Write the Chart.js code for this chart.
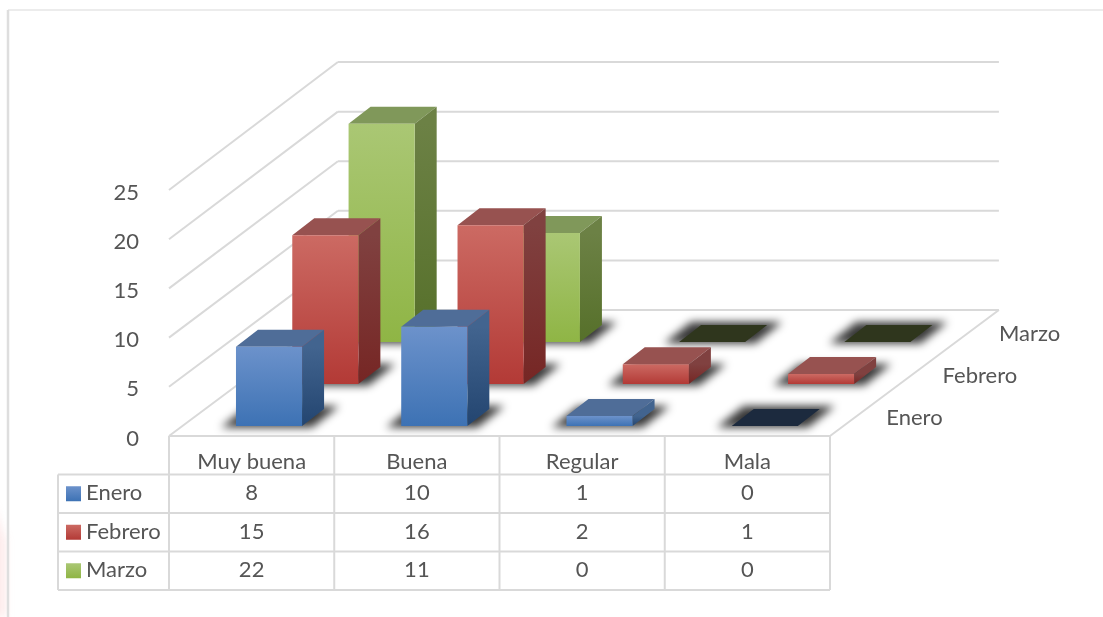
<!DOCTYPE html>
<html>
<head>
<meta charset="utf-8">
<style>
  html, body { margin: 0; padding: 0; background: #fff; }
  canvas { display: block; }
</style>
<script src="https://cdn.jsdelivr.net/npm/chart.js@4"></script>
</head>
<body>
<canvas id="chart" width="1103" height="617"></canvas>
<script>
const categories = ["Muy buena", "Buena", "Regular", "Mala"];
const seriesNames = ["Enero", "Febrero", "Marzo"];
const enero = [8, 10, 1, 0];
const febrero = [15, 16, 2, 1];
const marzo = [22, 11, 0, 0];
const yTicks = [0, 5, 10, 15, 20, 25];

// face colours per series
const frontTop = ["#6c92cb", "#cc6a63", "#aac774"];
const frontBottom = ["#3d72b4", "#b33a36", "#8fb545"];
const sideTop = ["#42648f", "#804140", "#6c8145"];
const sideBottom = ["#234570", "#762624", "#56702a"];
const topFace = ["#4f6d98", "#975250", "#80985a"];
const zeroFace = ["#1c2a3e", "#3e1c1b", "#2f361d"];

const lineColor = "#d9d9d9";
const textColor = "#555555";
const font = "22px Lato";

// depth of one series row, of a bar, and where a bar sits inside its row
const rowDx = 56.3, rowDy = -42;
const barDx = 22, barDy = -17;
const insetDx = 17.4, insetDy = -10;
// the back of the box is drawn a bit taller than the front axis
const perspective = 1.008;

const tableLeft = 58;
const rowHeight = 38.5;

function poly(ctx, pts, fill) {
  ctx.beginPath();
  pts.forEach((p, i) => i ? ctx.lineTo(p[0], p[1]) : ctx.moveTo(p[0], p[1]));
  ctx.closePath();
  ctx.fillStyle = fill;
  ctx.fill();
}

function line(ctx, x1, y1, x2, y2) {
  ctx.beginPath();
  ctx.moveTo(x1, y1);
  ctx.lineTo(x2, y2);
  ctx.stroke();
}

function gradient(ctx, y1, y2, c1, c2) {
  const g = ctx.createLinearGradient(0, y1, 0, Math.max(y2, y1 + 1));
  g.addColorStop(0, c1);
  g.addColorStop(1, c2);
  return g;
}

const walls = {
  id: "walls",
  beforeDatasetsDraw(chart) {
    const { ctx, chartArea: a, scales } = chart;
    const n = seriesNames.length;
    ctx.save();
    ctx.strokeStyle = lineColor;
    ctx.lineWidth = 2;
    yTicks.forEach(v => {
      const y = scales.y.getPixelForValue(v);
      const backY = a.bottom + rowDy * n - (a.bottom - y) * perspective;
      line(ctx, a.left, y, a.left + rowDx * n, backY);
      line(ctx, a.left + rowDx * n, backY, a.right + rowDx * n, backY);
    });
    line(ctx, a.right, a.bottom, a.right + rowDx * n, a.bottom + rowDy * n);
    ctx.restore();
  }
};

// draws the bar elements of each dataset as boxes, back row first
const bars3d = {
  id: "bars3d",
  beforeDatasetsDraw(chart) {
    const ctx = chart.ctx;
    for (let s = seriesNames.length - 1; s >= 0; s--) {
      const ox = insetDx + rowDx * s;
      const oy = insetDy + rowDy * s;
      const els = chart.getDatasetMeta(s).data;

      els.forEach(el => {
        const l = el.x - el.width / 2 + ox, r = el.x + el.width / 2 + ox, b = el.base + oy;
        ctx.save();
        ctx.filter = "blur(4px)";
        poly(ctx, [[l - 15, b + 1.5], [r + 10, b + 1.5], [r + barDx + 15, b + barDy - 3], [l + barDx - 10, b + barDy - 3]], "rgba(0,0,0,0.78)");
        ctx.restore();
      });

      els.forEach((el, i) => {
        const l = el.x - el.width / 2 + ox, r = el.x + el.width / 2 + ox;
        const b = el.base + oy, t = b - (el.base - el.y) * perspective;
        const v = chart.data.datasets[s].data[i];
        if (v === 0) {
          poly(ctx, [[l, b], [r, b], [r + barDx, b + barDy], [l + barDx, b + barDy]], zeroFace[s]);
          return;
        }
        poly(ctx, [[l, t], [r, t], [r + barDx, t + barDy], [l + barDx, t + barDy]], topFace[s]);
        poly(ctx, [[r, t], [r + barDx, t + barDy], [r + barDx, b + barDy], [r, b]], gradient(ctx, t, b, sideTop[s], sideBottom[s]));
        poly(ctx, [[l, t], [r, t], [r, b], [l, b]], gradient(ctx, t, b, frontTop[s], frontBottom[s]));
      });
    }
    return false;
  }
};

const dataTable = {
  id: "dataTable",
  beforeDraw(chart) {
    const ctx = chart.ctx;
    // faint pink mark left of the frame
    ctx.save();
    ctx.filter = "blur(4px)";
    poly(ctx, [[-8, 500], [6, 540], [6, 617], [-8, 617]], "rgba(240,110,110,0.14)");
    ctx.restore();
    // y labels sit a little low against their ticks
    chart.scales.y.getLabelItems().forEach(item => { item.options.translation[1] += 2.5; });
  },
  afterDraw(chart) {
    const { ctx, chartArea: a, scales } = chart;
    const x = scales.x;
    const rows = chart.data.datasets;
    const top = a.bottom;
    const firstRow = top + 38.5;
    const bottom = firstRow + rowHeight * rows.length;
    const colW = (a.right - a.left) / categories.length;

    ctx.save();
    // frame of the picture
    ctx.strokeStyle = "#e6e6e6";
    ctx.lineWidth = 1.5;
    line(ctx, 8, 10, 1103, 10);
    ctx.strokeStyle = "#dedede";
    ctx.lineWidth = 2.5;
    line(ctx, 8, 10, 8, 617);

    ctx.strokeStyle = lineColor;
    ctx.lineWidth = 2;
    line(ctx, a.left, top, a.right, top);
    for (let c = 0; c <= categories.length; c++) {
      line(ctx, a.left + colW * c, top, a.left + colW * c, bottom);
    }
    for (let r = 0; r <= rows.length; r++) {
      line(ctx, tableLeft, firstRow + rowHeight * r, a.right, firstRow + rowHeight * r);
    }
    line(ctx, tableLeft, firstRow, tableLeft, bottom);

    ctx.font = font;
    ctx.fillStyle = textColor;
    ctx.textBaseline = "middle";
    rows.forEach((ds, r) => {
      const cy = firstRow + rowHeight * (r + 0.5);
      ctx.fillStyle = gradient(ctx, cy - 7.5, cy + 7.5, frontTop[r], frontBottom[r]);
      ctx.fillRect(66, cy - 7.5, 15, 15);
      ctx.fillStyle = textColor;
      ctx.textAlign = "left";
      ctx.fillText(ds.label, 86, cy - 0.5);
      ctx.textAlign = "center";
      ds.data.forEach((v, i) => ctx.fillText(String(v), x.getPixelForValue(i), cy - 0.5));
    });

    // depth axis labels
    ctx.textAlign = "left";
    seriesNames.forEach((name, s) => {
      ctx.fillText(name, a.right + rowDx * (s + 1), a.bottom - 18 + rowDy * s);
    });
    ctx.restore();
  }
};

Chart.defaults.font.family = "Lato";
Chart.defaults.font.size = 22;
Chart.defaults.color = textColor;

new Chart(document.getElementById("chart"), {
  type: "bar",
  data: {
    labels: categories,
    datasets: [
      { label: seriesNames[0], data: enero },
      { label: seriesNames[1], data: febrero },
      { label: seriesNames[2], data: marzo },
    ],
  },
  options: {
    responsive: false,
    animation: false,
    barPercentage: 0.4,
    categoryPercentage: 1,
    layout: { padding: { top: 190, right: 273, bottom: 100, left: 0 } },
    plugins: { legend: { display: false }, tooltip: { enabled: false } },
    scales: {
      x: {
        stacked: true,
        grid: { display: false },
        border: { display: false },
        ticks: { padding: 5, maxRotation: 0 },
        afterFit(scale) { scale.height = 81; },
      },
      y: {
        min: 0,
        max: 25,
        grid: { display: false },
        border: { display: false },
        afterFit(scale) { scale.width = 169; },
        ticks: { stepSize: 5, padding: 22 },
      },
    },
  },
  plugins: [walls, bars3d, dataTable],
});
</script>
</body>
</html>
